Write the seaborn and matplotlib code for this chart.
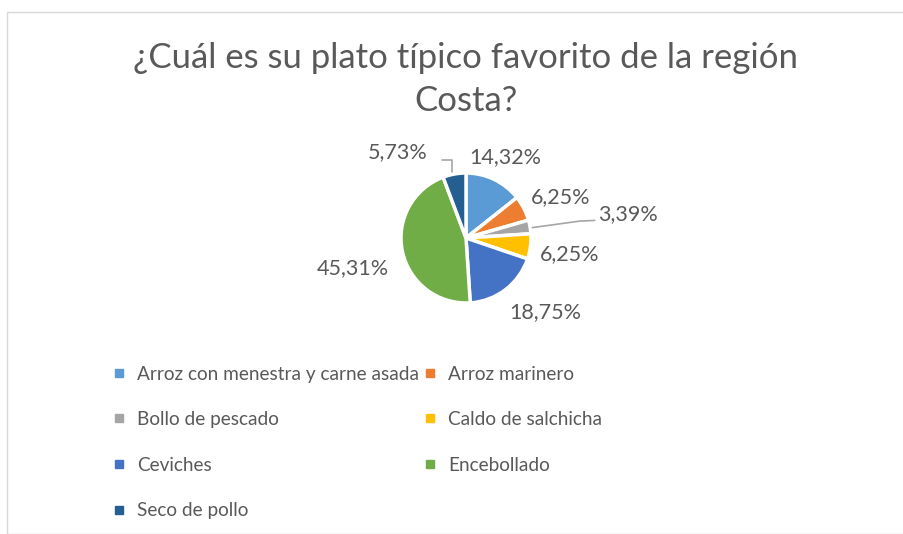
import matplotlib
matplotlib.use("Agg")
import matplotlib.pyplot as plt
import seaborn as sns
from matplotlib.lines import Line2D
from matplotlib.patches import Rectangle

# -----------------------------
# data
# -----------------------------
platos = ["Arroz con menestra y carne asada", "Arroz marinero", "Bollo de pescado",
          "Caldo de salchicha", "Ceviches", "Encebollado", "Seco de pollo"]
porcentajes = [14.32, 6.25, 3.39, 6.25, 18.75, 45.31, 5.73]
etiquetas = ["14,32%", "6,25%", "3,39%", "6,25%", "18,75%", "45,31%", "5,73%"]
colores = ["#5B9BD5", "#ED7D31", "#A5A5A5", "#FFC000", "#4472C4", "#70AD47", "#255E91"]

# label placement (in pie radius units, relative to centre)
label_pos = [(0.60, 1.25), (1.45, 0.63), (2.49, 0.37), (1.60, -0.25),
             (1.22, -1.14), (-1.74, -0.46), (-1.05, 1.32)]

sns.set_theme(style="white")
plt.rcParams['font.family'] = ['Lato', 'DejaVu Sans']
txt = "#595959"

fig = plt.figure(figsize=(9.04, 5.34), dpi=100)
W, H = 904, 534

# outer chart border
fig.patches.append(Rectangle((7 / W, 0), 1.0, (H - 12) / H, transform=fig.transFigure,
                             fill=False, edgecolor="#d9d9d9", linewidth=1.0))

fig.text(466 / W, 1 - 58 / H, "¿Cuál es su plato típico favorito de la región",
         ha="center", va="center", fontsize=25, color=txt)
fig.text(466 / W, 1 - 101 / H, "Costa?", ha="center", va="center",
         fontsize=25, color=txt)

# pie axes: centre (466, 238), radius 65 px
cx, cy, r = 466, 238, 65
ax = fig.add_axes([(cx - r) / W, (H - cy - r) / H, 2 * r / W, 2 * r / H])
wedges, _ = ax.pie(porcentajes, colors=colores, startangle=90, counterclock=False,
                   wedgeprops=dict(edgecolor="white", linewidth=2.5))
ax.set_xlim(-1, 1)
ax.set_ylim(-1, 1)
ax.set_aspect("equal")
ax.axis("off")

for lab, (lx, ly) in zip(etiquetas, label_pos):
    ax.text(lx, ly, lab, ha="center", va="center", fontsize=15.5, color=txt, clip_on=False)

# leader lines for the small slices
ax.plot([1.02, 1.75, 1.98], [0.16, 0.26, 0.27], color="#A6A6A6", lw=1.2, clip_on=False)
ax.plot([-0.37, -0.22, -0.22], [1.20, 1.20, 1.02], color="#A6A6A6", lw=1.2, clip_on=False)

# legend, row-major order like Excel
order = [0, 2, 4, 6, 1, 3, 5]
handles = [Line2D([], [], marker="s", linestyle="", markersize=6,
                  markerfacecolor=colores[i], markeredgecolor=colores[i]) for i in order]
fig.legend(handles, [platos[i] for i in order], ncol=2, frameon=False,
           loc="upper left", bbox_to_anchor=(106 / W, 1 - 358 / H),
           fontsize=13.7, labelcolor=txt, handlelength=0.6, handletextpad=0.65,
           columnspacing=0.25, labelspacing=1.5, borderaxespad=0)

fig.savefig("out.png", dpi=100)
